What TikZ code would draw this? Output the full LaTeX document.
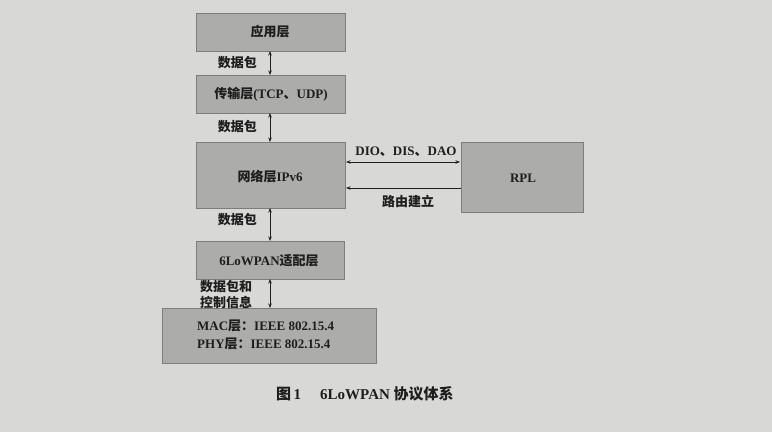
\documentclass[tikz,border=0pt]{standalone}
\usepackage{fontspec}
\setmainfont{Liberation Serif}
\newfontfamily\cjk{Noto Sans CJK SC}
\usetikzlibrary{arrows.meta}
\definecolor{bg}{RGB}{216,216,214}
\definecolor{boxfill}{RGB}{172,172,170}
\definecolor{boxline}{RGB}{125,125,125}
\definecolor{ink}{RGB}{30,30,30}
\tikzset{
  layer/.style={draw=boxline, line width=0.8pt, fill=boxfill, inner sep=0pt, anchor=north west},
  lbl/.style={text=ink, font=\bfseries\fontsize{13}{15}\selectfont, inner sep=0pt},
  conn/.style={draw=ink, line width=0.7pt, {Stealth[length=4.5pt,width=3.5pt]}-{Stealth[length=4.5pt,width=3.5pt]}},
  conn1/.style={draw=ink, line width=0.7pt, {Stealth[length=4.5pt,width=3.5pt]}-}
}
\newcommand{\cj}[1]{{\cjk #1}}
\begin{document}
\begin{tikzpicture}[x=1pt,y=-1pt]
\useasboundingbox (0,0) rectangle (772,432);
\fill[bg] (0,0) rectangle (772,432);
% boxes
\node[layer, minimum width=149pt, minimum height=38pt] (app) at (196,13) {};
\node[layer, minimum width=149pt, minimum height=38pt] (tra) at (196,75) {};
\node[layer, minimum width=149pt, minimum height=66pt] (net) at (196,142) {};
\node[layer, minimum width=122pt, minimum height=70pt] (rpl) at (461,142) {};
\node[layer, minimum width=148pt, minimum height=38pt] (lowpan) at (196,241) {};
\node[layer, minimum width=214pt, minimum height=55pt] (mac) at (162,308) {};
% box texts
\node[lbl] (tapp) at (270,32) {\cj{应用层}};
\node[lbl] (ttra) at (271,94) {\cj{传输层}(TCP\cj{、}UDP)};
\node[lbl] (tnet) at (270,177) {\cj{网络层}IPv6};
\node[lbl] (trpl) at (523,178) {RPL};
\node[lbl] (tlow) at (269,261) {6LoWPAN\cj{适配层}};
\node[lbl, anchor=west] (tmac) at (197,326) {MAC\cj{层：}IEEE 802.15.4};
\node[lbl, anchor=west] (tphy) at (197,344) {PHY\cj{层：}IEEE 802.15.4};
% vertical connectors
\coordinate (a1) at (270,51); \coordinate (a2) at (270,75);
\coordinate (b1) at (270,113); \coordinate (b2) at (270,142);
\coordinate (c1) at (270,208); \coordinate (c2) at (270,241);
\coordinate (d1) at (270,279); \coordinate (d2) at (270,308);
\draw[conn] (a1) -- (a2);
\draw[conn] (b1) -- (b2);
\draw[conn] (c1) -- (c2);
\draw[conn] (d1) -- (d2);
\node[lbl, anchor=east] (l1) at (257,63) {\cj{数据包}};
\node[lbl, anchor=east] (l2) at (257,127) {\cj{数据包}};
\node[lbl, anchor=east] (l3) at (257,220) {\cj{数据包}};
\node[lbl, anchor=west, align=left, font=\bfseries\fontsize{13}{16}\selectfont] (l4) at (200,295) {\cj{数据包和}\\\cj{控制信息}};
% horizontal connectors
\coordinate (h1a) at (346,162); \coordinate (h1b) at (460,162);
\coordinate (h2a) at (346,188); \coordinate (h2b) at (461,188);
\draw[conn] (h1a) -- (h1b);
\draw[conn1] (h2a) -- (h2b);
\node[lbl] (ldio) at (406,152) {DIO\cj{、}DIS\cj{、}DAO};
\node[lbl] (lrt) at (408,201) {\cj{路由建立}};
% caption
\node[lbl, anchor=west, font=\bfseries\fontsize{15}{17}\selectfont] (cap1) at (276,394) {\cj{图}\,1};
\node[lbl, anchor=west, font=\bfseries\fontsize{15}{17}\selectfont] (cap2) at (320,394) {6LoWPAN \cj{协议体系}};
\end{tikzpicture}
\end{document}
